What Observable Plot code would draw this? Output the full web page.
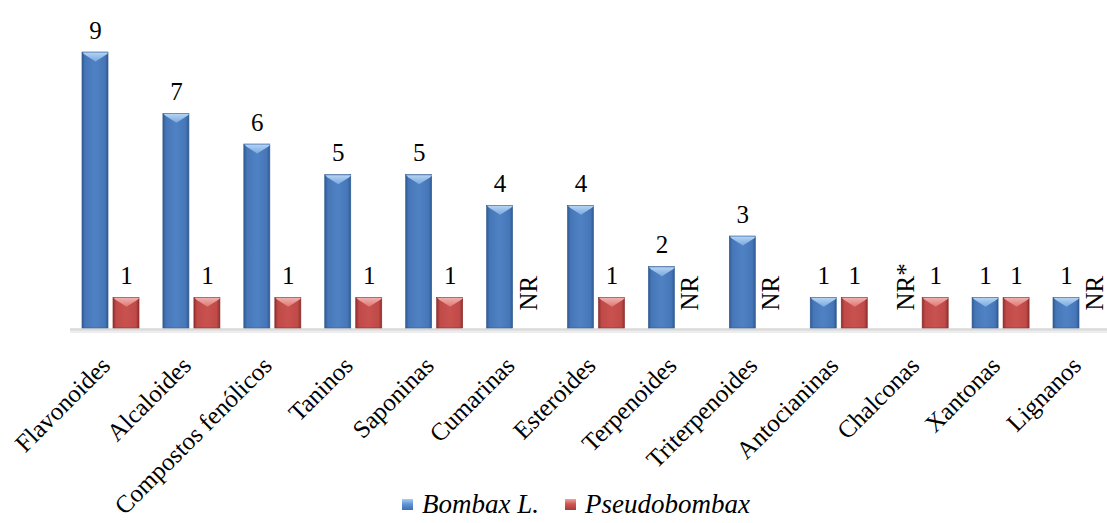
<!DOCTYPE html>
<html>
<head>
<meta charset="utf-8">
<script src="https://cdn.jsdelivr.net/npm/d3@7"></script>
<script src="https://cdn.jsdelivr.net/npm/@observablehq/plot@0.6"></script>
<style>
  html, body { margin: 0; padding: 0; background: #fff; }
  #wrap { position: relative; width: 1107px; height: 523px; overflow: hidden; }
  #chart svg, #chart svg text { font-family: 'Liberation Serif', 'Times New Roman', serif !important; }
  #legend { position: absolute; left: 402px; top: 489px; display: flex; justify-content: flex-start;
    font-family: 'Liberation Serif', 'Times New Roman', serif; font-style: italic; font-size: 27px; line-height: 30px; color: #000; white-space: nowrap; }
  .item { display: flex; align-items: center; margin-right: 26px; }
  .sw { width: 11px; height: 11px; margin-right: 9px; }
</style>
</head>
<body>
<div id="wrap"><div id="chart"></div>
<div id="legend">
  <div class="item"><div class="sw" style="background:linear-gradient(180deg,#a9cdf2 0%,#5f95d6 45%,#3d6fae 100%)"></div><span id="l1"></span></div>
  <div class="item"><div class="sw" style="background:linear-gradient(180deg,#f0a3a0 0%,#cf5753 45%,#a53b38 100%)"></div><span id="l2"></span></div>
</div>
</div>
<script>
const categories = ["Flavonoides","Alcaloides","Compostos fenólicos","Taninos","Saponinas","Cumarinas","Esteroides","Terpenoides","Triterpenoides","Antocianinas","Chalconas","Xantonas","Lignanos"];
const seriesNames = ["Bombax L.","Pseudobombax"];
const bombax = [9,7,6,5,5,4,4,2,3,1,null,1,1];
const pseudobombax = [1,1,1,1,1,null,1,null,null,1,1,1,null];
const bombaxMissing = "NR*";
const pseudoMissing = "NR";

document.getElementById("l1").textContent = seriesNames[0];
document.getElementById("l2").textContent = seriesNames[1];

const rowsB = categories.map((c, i) => ({cat: c, value: bombax[i], missing: bombaxMissing}));
const rowsR = categories.map((c, i) => ({cat: c, value: pseudobombax[i], missing: pseudoMissing}));
const has = d => d.value != null;
const no = d => d.value == null;

const font = "'Liberation Serif', 'Times New Roman', serif";
const bevel = {
  draw(ctx) {
    ctx.moveTo(-13, 0); ctx.lineTo(13, 0); ctx.lineTo(11, 2); ctx.lineTo(0, 9); ctx.lineTo(-11, 2); ctx.closePath();
  }
};
const FS = 25;

const chart = Plot.plot({
  width: 1107,
  height: 523,
  marginLeft: 70,
  marginRight: 0,
  marginTop: 0,
  marginBottom: 0,
  style: {fontFamily: font, background: "transparent", overflow: "visible"},
  x: {domain: categories, range: [70, 1122], paddingInner: 0.295, paddingOuter: 0.148, round: false, axis: null},
  y: {domain: [0, 9], range: [328, 52], axis: null},
  marks: [
    Plot.ruleY([0], {stroke: "#d9d9d9", strokeWidth: 2.5, dy: 1}),
    Plot.ruleY([0], {stroke: "#ededed", strokeWidth: 2, dy: 3.5}),
    Plot.barY(rowsB.filter(has), {x: "cat", y: "value", insetRight: 31, fill: "url(#gB)", stroke: "#2f5a8f", strokeWidth: 0.6}),
    Plot.barY(rowsR.filter(has), {x: "cat", y: "value", insetLeft: 31, fill: "url(#gR)", stroke: "#8a2c2a", strokeWidth: 0.6}),
    Plot.dot(rowsB.filter(has), {x: "cat", y: "value", dx: -15.5, symbol: bevel, r: 5, fill: "url(#tB)", stroke: "none"}),
    Plot.dot(rowsR.filter(has), {x: "cat", y: "value", dx: 15.5, symbol: bevel, r: 5, fill: "url(#tR)", stroke: "none"}),
    Plot.text(rowsB.filter(has), {x: "cat", y: "value", text: d => String(d.value), dx: -15.5, lineAnchor: "bottom", dy: -14, fontSize: FS, fontFamily: font, fill: "#000"}),
    Plot.text(rowsR.filter(has), {x: "cat", y: "value", text: d => String(d.value), dx: 15.5, lineAnchor: "bottom", dy: -14, fontSize: FS, fontFamily: font, fill: "#000"}),
    Plot.text(rowsB.filter(no), {x: "cat", y: 0, text: "missing", rotate: -90, textAnchor: "start", lineAnchor: "middle", dx: -14, dy: -18, fontSize: FS, fontFamily: font, fill: "#000"}),
    Plot.text(rowsR.filter(no), {x: "cat", y: 0, text: "missing", rotate: -90, textAnchor: "start", lineAnchor: "middle", dx: 13, dy: -18, fontSize: FS, fontFamily: font, fill: "#000"}),
    Plot.text(categories, {x: d => d, y: 0, text: d => d, rotate: -45, textAnchor: "end", lineAnchor: "middle", dy: 33, dx: -5, fontSize: FS, fontFamily: font, fill: "#000"})
  ]
});

const defs = d3.select(chart).insert("defs", ":first-child");
function hgrad(id, edge, mid, light) {
  const g = defs.append("linearGradient").attr("id", id).attr("x1", 0).attr("x2", 1).attr("y1", 0).attr("y2", 0);
  g.append("stop").attr("offset", "0%").attr("stop-color", edge);
  g.append("stop").attr("offset", "12%").attr("stop-color", mid);
  g.append("stop").attr("offset", "50%").attr("stop-color", light);
  g.append("stop").attr("offset", "88%").attr("stop-color", mid);
  g.append("stop").attr("offset", "100%").attr("stop-color", edge);
}
function vgrad(id, a, b) {
  const g = defs.append("linearGradient").attr("id", id).attr("x1", 0).attr("x2", 0).attr("y1", 0).attr("y2", 1);
  g.append("stop").attr("offset", "0%").attr("stop-color", a);
  g.append("stop").attr("offset", "100%").attr("stop-color", b);
}
hgrad("gB", "#2f5b94", "#4676b8", "#4f82c4");
hgrad("gR", "#8f2f2d", "#bf4a47", "#c9524f");
vgrad("tB", "#b4d4f3", "#79a8df");
vgrad("tR", "#f1b0ae", "#dc7774");

document.getElementById("chart").appendChild(chart);
</script>
</body>
</html>
